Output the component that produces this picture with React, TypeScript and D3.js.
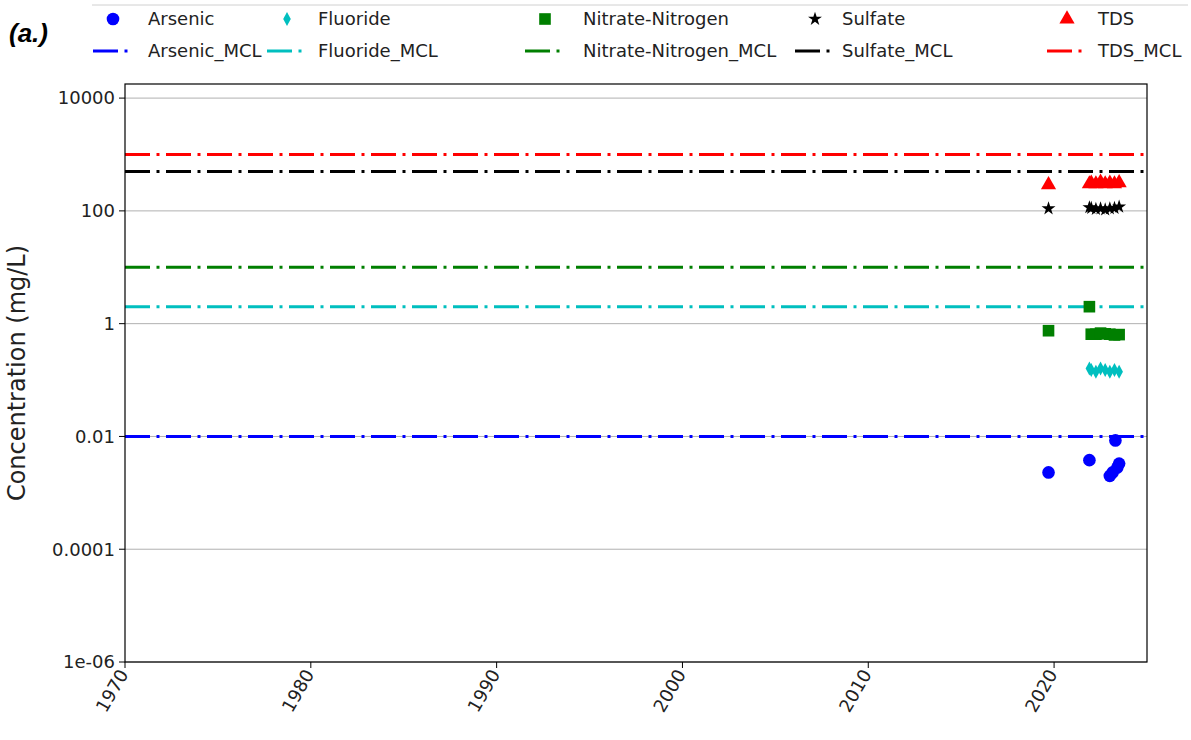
import React from "react";
import * as d3 from "d3";

// Sample dates (decimal years) and measured concentrations (mg/L)
const arsenicDates = [2019.7, 2021.9, 2023.0, 2023.15, 2023.3, 2023.4, 2023.5];
const arsenicValues = [0.0023, 0.0038, 0.002, 0.0023, 0.0085, 0.0028, 0.0033];

const fluorideDates = [2021.9, 2022.0, 2022.25, 2022.5, 2022.75, 2023.0, 2023.25, 2023.5];
const fluorideValues = [0.16, 0.15, 0.14, 0.16, 0.15, 0.14, 0.15, 0.14];

const nitrateDates = [2019.7, 2021.9, 2022.0, 2022.25, 2022.5, 2022.75, 2023.0, 2023.25, 2023.5];
const nitrateValues = [0.75, 2.0, 0.65, 0.65, 0.68, 0.66, 0.65, 0.63, 0.64];

const sulfateDates = [2019.7, 2021.9, 2022.0, 2022.25, 2022.5, 2022.75, 2023.0, 2023.25, 2023.5];
const sulfateValues = [110, 115, 112, 108, 110, 105, 110, 112, 118];

const tdsDates = [2019.7, 2021.9, 2022.0, 2022.25, 2022.5, 2022.75, 2023.0, 2023.25, 2023.5];
const tdsValues = [290, 300, 310, 300, 320, 300, 310, 300, 315];

// Maximum contaminant levels (mg/L)
const analyteNames = ["Arsenic", "Fluoride", "Nitrate-Nitrogen", "Sulfate", "TDS"];
const mclValues = [0.01, 2, 10, 500, 1000];
const analyteColors = ["#0000ff", "#00bfbf", "#007f00", "#000000", "#ff0000"];
const markerShapes = ["circle", "diamond", "square", "star", "triangle"];

const yTickValues = [1e4, 100, 1, 0.01, 0.0001, 1e-6];
const yTickLabels = ["10000", "100", "1", "0.01", "0.0001", "1e-06"];
const xTickYears = [1970, 1980, 1990, 2000, 2010, 2020];

const W = 1191;
const H = 740;
const plot = { left: 125, right: 1147, top: 84, bottom: 662 };
const FONT = "DejaVu Sans, sans-serif";
const DASH = "25 6.5 3 6.5";

const x = d3.scaleLinear().domain([1970, 2025]).range([plot.left, plot.right]);
const y = d3.scaleLog().domain([1e-6, Math.pow(10, 4.25)]).range([plot.bottom, plot.top]);

function markerPath(shape: string): string {
  if (shape === "circle") return d3.symbol(d3.symbolCircle, 125)() as string;
  if (shape === "square") return d3.symbol(d3.symbolSquare, 135)() as string;
  if (shape === "star") return d3.symbol(d3.symbolStar, 60)() as string;
  if (shape === "triangle") return d3.symbol(d3.symbolTriangle, 100)() as string;
  // thin diamond
  return "M0,-7L3.8,0L0,7L-3.8,0Z";
}

const seriesList = [
  { dates: arsenicDates, values: arsenicValues },
  { dates: fluorideDates, values: fluorideValues },
  { dates: nitrateDates, values: nitrateValues },
  { dates: sulfateDates, values: sulfateValues },
  { dates: tdsDates, values: tdsValues },
];

// Legend column anchors (marker x, text x)
const legendMarkerX = [113, 287, 545, 815, 1067];
const legendTextX = [148, 318, 583, 842, 1098];

export default function App() {
  const line = d3.line<[number, number]>();
  return (
    <svg
      width={W}
      height={H}
      style={{ position: "absolute", left: 0, top: 0, background: "#fff" }}
      fontFamily={FONT}
    >
      <rect x={0} y={0} width={W} height={H} fill="#fff" />

      {/* panel tag */}
      <text x={9} y={42} fontSize={26} fontWeight="bold" fontStyle="italic" fontFamily="Liberation Sans, Arial, sans-serif" fill="#000">
        (a.)
      </text>

      {/* legend */}
      <line x1={92} x2={1188} y1={5} y2={5} stroke="#d0d0d0" strokeWidth={1} />
      {analyteNames.map((name, i) => (
        <g key={name}>
          <path
            d={markerPath(markerShapes[i])}
            transform={`translate(${legendMarkerX[i]},${19})`}
            fill={analyteColors[i]}
          />
          <text x={legendTextX[i]} y={25} fontSize={18} fill="#222">
            {name}
          </text>
          <path
            d={line([
              [legendMarkerX[i] - 20, 51],
              [legendMarkerX[i] + 18, 51],
            ]) as string}
            stroke={analyteColors[i]}
            strokeWidth={3}
            strokeDasharray={DASH}
            fill="none"
          />
          <text x={legendTextX[i]} y={57} fontSize={18} fill="#222">
            {name + "_MCL"}
          </text>
        </g>
      ))}

      {/* horizontal grid */}
      {yTickValues.map((v) => (
        <line key={"g" + v} x1={plot.left} x2={plot.right} y1={y(v)} y2={y(v)} stroke="#b0b0b0" strokeWidth={1} />
      ))}

      {/* MCL reference lines */}
      {mclValues.map((v, i) => (
        <path
          key={"mcl" + i}
          d={line([
            [plot.left, y(v)],
            [plot.right, y(v)],
          ]) as string}
          stroke={analyteColors[i]}
          strokeWidth={3}
          strokeDasharray={DASH}
          fill="none"
        />
      ))}

      {/* measured values */}
      {seriesList.map((s, i) => (
        <g key={"s" + i} fill={analyteColors[i]}>
          {s.values.map((v, j) => (
            <path key={j} d={markerPath(markerShapes[i])} transform={`translate(${x(s.dates[j])},${y(v)})`} />
          ))}
        </g>
      ))}

      {/* frame */}
      <rect
        x={plot.left}
        y={plot.top}
        width={plot.right - plot.left}
        height={plot.bottom - plot.top}
        fill="none"
        stroke="#000"
        strokeWidth={1.2}
      />

      {/* y axis */}
      {yTickValues.map((v, i) => (
        <g key={"yt" + v}>
          <line x1={plot.left - 6} x2={plot.left} y1={y(v)} y2={y(v)} stroke="#000" />
          <text x={plot.left - 10} y={y(v)} dy="0.35em" textAnchor="end" fontSize={18} fill="#222">
            {yTickLabels[i]}
          </text>
        </g>
      ))}
      <text
        transform={`translate(${25},${(plot.top + plot.bottom) / 2}) rotate(-90)`}
        textAnchor="middle"
        fontSize={24}
        fill="#222"
      >
        Concentration (mg/L)
      </text>

      {/* x axis */}
      {xTickYears.map((yr) => (
        <g key={"xt" + yr}>
          <line x1={x(yr)} x2={x(yr)} y1={plot.bottom} y2={plot.bottom + 6} stroke="#000" />
          <text
            transform={`translate(${x(yr) + 4},${plot.bottom + 12}) rotate(-60)`}
            textAnchor="end"
            fontSize={18}
            fill="#222"
          >
            {yr}
          </text>
        </g>
      ))}
    </svg>
  );
}
